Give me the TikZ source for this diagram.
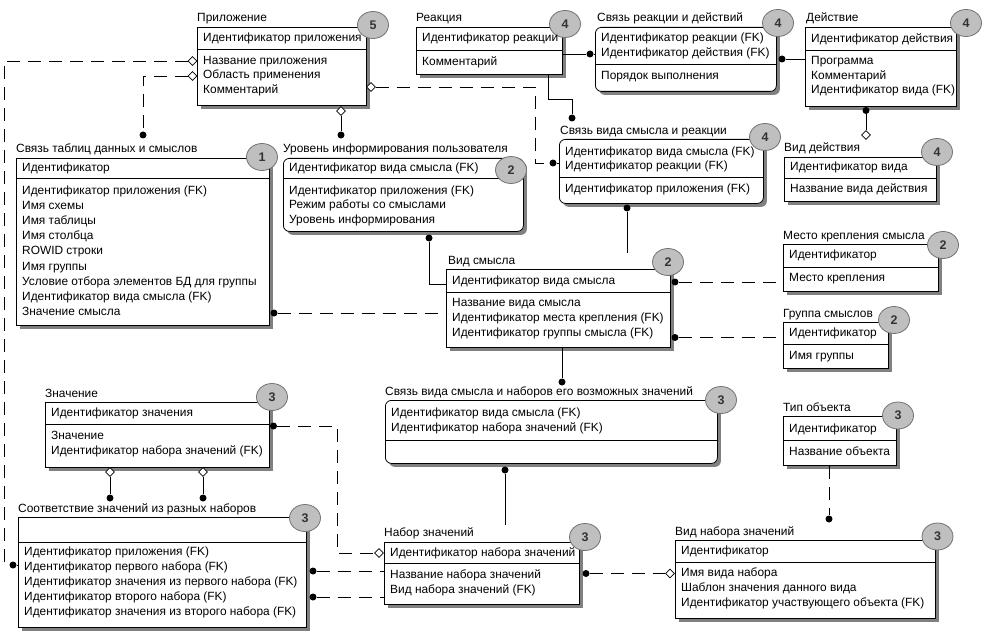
\documentclass[tikz,border=0pt]{standalone}
\usepackage{fontspec}
\setmainfont{Liberation Sans}
\usetikzlibrary{shapes.geometric,shadows}
\pgfdeclarelayer{boxes}
\pgfdeclarelayer{badges}
\pgfsetlayers{boxes,badges,main}
\newcommand\efont{\fontsize{11.9}{14}\selectfont}
\newcommand\bfont{\fontsize{12.5}{14}\selectfont\bfseries}
% entity box: name, L, T, R, B, separator y, style
\newcommand\ent[7]{%
  \begin{pgfonlayer}{boxes}
  \node[#7, anchor=north west, minimum width={(#4)-(#2)}, minimum height={(#5)-(#3)}] (#1) at (#2,#3) {};
  \draw[line width=0.8pt] (#1.west |- 0,#6) -- (#1.east |- 0,#6);
  \end{pgfonlayer}}
\newcommand\ttl[4]{\node[txt] (#1-t) at (#2,#3) {#4};}
\newcommand\rws[5]{\foreach \rtext [count=\ri from 0] in {#5} {\node[txt] (#1\ri) at ({#2},{#3+#4*\ri}) {\rtext};}}
\newcommand\bdg[4]{\begin{pgfonlayer}{badges}\node[badge] (#1) at (#2,#3) {#4};\end{pgfonlayer}}
\begin{document}
\begin{tikzpicture}[x=1pt,y=-1pt,
  box/.style={draw, line width=0.8pt, fill=white, inner sep=0,
    drop shadow={opacity=1, fill=black!50, shadow xshift=3.5pt, shadow yshift=-3.5pt}},
  rbox/.style={box, rounded corners=6pt},
  txt/.style={anchor=west, inner sep=0, font=\efont, text height=8.6pt, text depth=2.3pt},
  badge/.style={ellipse, draw=black!55, line width=0.8pt, fill=black!25, minimum width=31pt,
    minimum height=27pt, inner sep=0, font=\bfont, text=black!80},
  fdot/.style={circle, fill=black, inner sep=0, minimum size=7pt},
  dia/.style={diamond, draw, fill=white, inner sep=0, minimum width=9pt, minimum height=9pt, line width=0.7pt},
  rel/.style={line width=0.8pt},
  drel/.style={rel, dash pattern=on 13pt off 8pt}]
\begin{pgfonlayer}{boxes}
\useasboundingbox (0,0) rectangle (987,639);
\fill[white] (0,0) rectangle (987,639);
\end{pgfonlayer}

% ---------------- entities ----------------
% Приложение
\ent{app}{197}{27}{366}{105}{49.5}{box}
\ttl{app}{197}{18.5}{Приложение}
\rws{app-h}{203}{38.5}{15}{Идентификатор приложения}
\rws{app-a}{203}{61}{14.75}{Название приложения,Область применения,Комментарий}
\bdg{app-b}{373}{25}{5}
% Реакция
\ent{rea}{416}{27}{562}{74}{50}{box}
\ttl{rea}{416}{18.5}{Реакция}
\rws{rea-h}{422}{38.5}{15}{Идентификатор реакции}
\rws{rea-a}{422}{62}{15}{Комментарий}
\bdg{rea-b}{565}{24}{4}
% Связь реакции и действий
\ent{rad}{595}{27}{776}{91}{64}{rbox}
\ttl{rad}{597}{18.5}{Связь реакции и действий}
\rws{rad-h}{601}{38.5}{14.5}{Идентификатор реакции (FK),Идентификатор действия (FK)}
\rws{rad-a}{601}{76.5}{15}{Порядок выполнения}
\bdg{rad-b}{778}{23}{4}
% Действие
\ent{act}{805}{27}{956}{106}{50}{box}
\ttl{act}{806}{18.5}{Действие}
\rws{act-h}{811}{39}{15}{Идентификатор действия}
\rws{act-a}{811}{61.5}{14.5}{Программа,Комментарий,Идентификатор вида (FK)}
\bdg{act-b}{966}{23}{4}
% Связь таблиц данных и смыслов
\ent{tbl}{16}{158}{269}{325}{178.5}{box}
\ttl{tbl}{16}{149}{Связь таблиц данных и смыслов}
\rws{tbl-h}{22}{168.5}{15}{Идентификатор}
\rws{tbl-a}{22}{191}{15.2}{Идентификатор приложения (FK),Имя схемы,Имя таблицы,Имя столбца,ROWID строки,Имя группы,Условие отбора элементов БД для группы,Идентификатор вида смысла (FK),Значение смысла}
\bdg{tbl-b}{262}{157}{1}
% Уровень информирования пользователя
\ent{lvl}{283}{158}{523}{231}{178.5}{rbox}
\ttl{lvl}{283}{149}{Уровень информирования пользователя}
\rws{lvl-h}{289}{168.5}{15}{Идентификатор вида смысла (FK)}
\rws{lvl-a}{289}{191}{14.8}{Идентификатор приложения (FK),Режим работы со смыслами,Уровень информирования}
\bdg{lvl-b}{511}{170}{2}
% Связь вида смысла и реакции
\ent{svr}{559}{139}{763}{203}{177.5}{rbox}
\ttl{svr}{560}{131.5}{Связь вида смысла и реакции}
\rws{svr-h}{565}{152}{14.5}{Идентификатор вида смысла (FK),Идентификатор реакции (FK)}
\rws{svr-a}{565}{189.5}{15}{Идентификатор приложения (FK)}
\bdg{svr-b}{765}{137}{4}
% Вид действия
\ent{vda}{784}{157}{936}{201}{178}{box}
\ttl{vda}{784}{148}{Вид действия}
\rws{vda-h}{790}{167.5}{15}{Идентификатор вида}
\rws{vda-a}{790}{189.5}{15}{Название вида действия}
\bdg{vda-b}{937}{152}{4}
% Вид смысла
\ent{vs}{446}{269}{670}{347}{292}{box}
\ttl{vs}{448}{261}{Вид смысла}
\rws{vs-h}{452}{281}{15}{Идентификатор вида смысла}
\rws{vs-a}{452}{303}{15}{Название вида смысла,Идентификатор места крепления (FK),Идентификатор группы смысла (FK)}
\bdg{vs-b}{668}{262}{2}
% Место крепления смысла
\ent{mk}{783}{244}{938}{291}{267}{box}
\ttl{mk}{783}{236}{Место крепления смысла}
\rws{mk-h}{789}{255.5}{15}{Идентификатор}
\rws{mk-a}{789}{278}{15}{Место крепления}
\bdg{mk-b}{943}{245}{2}
% Группа смыслов
\ent{gs}{783}{322}{888}{368}{344}{box}
\ttl{gs}{783}{314}{Группа смыслов}
\rws{gs-h}{789}{333}{15}{Идентификатор}
\rws{gs-a}{789}{356.5}{15}{Имя группы}
\bdg{gs-b}{894}{320}{2}
% Связь вида смысла и наборов его возможных значений
\ent{svn}{385}{400}{717}{463}{440}{rbox}
\ttl{svn}{385}{392.5}{Связь вида смысла и наборов его возможных значений}
\rws{svn-h}{391}{413.5}{15}{Идентификатор вида смысла (FK),Идентификатор набора значений (FK)}
\bdg{svn-b}{721}{400}{3}
% Тип объекта
\ent{tob}{783}{416}{896}{465}{440}{box}
\ttl{tob}{783}{408}{Тип объекта}
\rws{tob-h}{789}{429.5}{15}{Идентификатор}
\rws{tob-a}{789}{452}{15}{Название объекта}
\bdg{tob-b}{898}{415.5}{3}
% Значение
\ent{zn}{45}{402}{269}{467}{424}{box}
\ttl{zn}{45}{394.5}{Значение}
\rws{zn-h}{51}{413}{15}{Идентификатор значения}
\rws{zn-a}{51}{436}{15}{Значение,Идентификатор набора значений (FK)}
\bdg{zn-b}{272}{397}{3}
% Соответствие значений из разных наборов
\ent{so}{18}{517}{306}{627}{542}{box}
\ttl{so}{18}{509.5}{Соответствие значений из разных наборов}
\rws{so-a}{24}{552.5}{14.9}{Идентификатор приложения (FK),Идентификатор первого набора (FK),Идентификатор значения из первого набора (FK),Идентификатор второго набора (FK),Идентификатор значения из второго набора (FK)}
\bdg{so-b}{305}{518}{3}
% Набор значений
\ent{nz}{384}{542}{579}{604}{563.5}{box}
\ttl{nz}{384}{533.5}{Набор значений}
\rws{nz-h}{390}{553}{15}{Идентификатор набора значений}
\rws{nz-a}{390}{575}{15}{Название набора значений,Вид набора значений (FK)}
\bdg{nz-b}{585}{537}{3}
% Вид набора значений
\ent{vnz}{675}{540}{935}{618}{562.5}{box}
\ttl{vnz}{675}{532}{Вид набора значений}
\rws{vnz-h}{681}{551.5}{15}{Идентификатор}
\rws{vnz-a}{681}{573.5}{15}{Имя вида набора,Шаблон значения данного вида,Идентификатор участвующего объекта (FK)}
\bdg{vnz-b}{937.5}{536.5}{3}

% ---------------- relationships ----------------
% Приложение -> Соответствие
\node[dia] (d1) at (192.5,61) {};
\node[fdot] (p1) at (13,565) {};
\coordinate (c1a) at (4,61);
\coordinate (c1b) at (4,565);
\draw[drel] (d1) -- (c1a) -- (c1b) -- (p1);
\draw[rel] (p1) -- (so.west |- p1);
% Приложение -> Связь таблиц
\node[dia] (d2) at (192.5,76) {};
\node[fdot] (p2) at (143,135) {};
\draw[drel] (d2) -| (p2);
% Приложение -> Уровень
\node[dia] (d3) at (341,111) {};
\node[fdot] (p3) at (341,135) {};
\draw[rel] (d3) -- (p3);
% Приложение -> Связь вида смысла и реакции
\node[dia] (d4) at (371,87) {};
\node[fdot] (p4) at (553,163) {};
\coordinate (c4) at (535,87);
\draw[drel] (d4) -- (c4) |- (p4);
\draw[rel] (p4) -- (svr.west |- p4);
% Реакция -> Связь реакции и действий
\node[fdot] (p5) at (590,54) {};
\draw[rel] (rea.east |- p5) -- (p5) -- (rad.west |- p5);
% Реакция -> Связь вида смысла и реакции
\node[fdot] (p6) at (572,118) {};
\coordinate (c6) at (548,99);
\draw[rel] (rea.south -| c6) -- (c6) -| (p6);
% Действие -> Связь реакции и действий
\node[fdot] (p7) at (782,59) {};
\draw[rel] (p7) -- (act.west |- p7);
% Действие -> Вид действия
\node[fdot] (p8) at (866,110.5) {};
\node[dia] (d8) at (866,135) {};
\draw[rel] (p8) -- (d8);
% Связь вида смысла и реакции -> Вид смысла
\node[fdot] (p9) at (627,208) {};
\coordinate (c9) at (627,253);
\draw[rel] (p9) -- (c9);
% Уровень -> Вид смысла
\node[fdot] (p10) at (429,238) {};
\coordinate (c10) at (429,284);
\draw[rel] (p10) -- (c10) -- (vs.west |- c10);
% Связь таблиц -> Вид смысла
\node[fdot] (p11) at (274,313) {};
\draw[drel] (p11) -- (vs.west |- p11);
% Вид смысла -> Место крепления
\node[fdot] (p12) at (675,282) {};
\draw[drel] (p12) -- (mk.west |- p12);
% Вид смысла -> Группа смыслов
\node[fdot] (p13) at (675,337.5) {};
\draw[drel] (p13) -- (gs.west |- p13);
% Вид смысла -> Связь вида смысла и наборов
\node[fdot] (p14) at (562,382) {};
\draw[rel] (vs.south -| p14) -- (p14);
% Связь вида смысла и наборов -> Набор значений
\node[fdot] (p15) at (505,470) {};
\coordinate (c15) at (505,525);
\draw[rel] (p15) -- (c15);
% Значение -> Набор значений
\node[fdot] (p16) at (273.5,426) {};
\node[dia] (d16) at (379,553) {};
\coordinate (c16) at (337,426);
\draw[drel] (p16) -- (c16) |- (d16);
% Значение -> Соответствие
\node[dia] (d17a) at (110,472) {};
\node[fdot] (p17a) at (110,498) {};
\draw[rel] (d17a) -- (p17a);
\node[dia] (d17b) at (203,472) {};
\node[fdot] (p17b) at (203,498) {};
\draw[rel] (d17b) -- (p17b);
% Соответствие -> Набор значений
\node[fdot] (p18a) at (313,571) {};
\draw[drel] (p18a) -- (nz.west |- p18a);
\node[fdot] (p18b) at (313,597) {};
\draw[drel] (p18b) -- (nz.west |- p18b);
% Набор значений -> Вид набора значений
\node[fdot] (p19) at (586,573.5) {};
\node[dia] (d19) at (670,573.5) {};
\draw[drel] (p19) -- (d19);
% Тип объекта -> Вид набора значений
\node[fdot] (p20) at (829,519) {};
\draw[drel] (tob.south -| p20) -- (p20);
\end{tikzpicture}
\end{document}
